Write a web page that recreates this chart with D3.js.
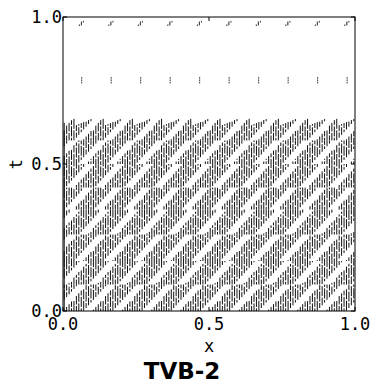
<!DOCTYPE html>
<html>
<head>
<meta charset="utf-8">
<script src="https://cdn.jsdelivr.net/npm/d3@7"></script>
<style>
  body { margin: 0; background: #fff; }
  text { font-family: "DejaVu Sans Mono", monospace; }
</style>
</head>
<body>
<div id="chart"></div>
<script>
// ticks
const xTicks = [0, 0.5, 1.0];
const tTicks = [0, 0.5, 1.0];
const tickLabels = ["0.0", "0.5", "1.0"];

// troubled cells: grid and flagged bands
const nCells = 120;
const period = 0.1;
const bandSpeed = 0.9;        // dx/dt of the slanted bands
const bandWidth = 0.07;       // flagged width of one band in x
// the pattern jumps between time tiers
const tierT = [0, 0.09, 0.17, 0.26, 0.345, 0.42, 0.50, 0.58, 0.70];
const tierShiftX = [0.0, 0.035, 0.015, 0.05, 0.025, 0.06, 0.03, 0.045];
const dashLen = 0.034;        // flagged runs in time are broken into dashes
const dashGap = 0.005;
const dashPhase = [0, 0.017, 0.008, 0.025];
const edgeCellT = [0, 0.64];  // the first cell is flagged all the way up
// top of the flagged region: saw tooth, drops at ridgeX
const ridgeX = [0.045, 0.145, 0.245, 0.345, 0.445, 0.545, 0.645, 0.745, 0.845, 0.945];
const ridgeLowT = 0.632;
const ridgeHighT = 0.673;
// isolated flags higher up
const midDotsX = [0.064, 0.165, 0.266, 0.367, 0.468, 0.569, 0.67, 0.771, 0.872, 0.973];
const midDotsT = [0.777, 0.785, 0.793];
const topDotsX = [0.056, 0.157, 0.258, 0.359, 0.46, 0.561, 0.662, 0.763, 0.864, 0.965];
const topDotsDx = [0, 0.007, 0.007, 0.007, 0.014];
const topDotsT = [0.972, 0.974, 0.978, 0.982, 0.984];

const W = 377, H = 384;
const margin = {top: 17, right: 22, bottom: 73, left: 63};
const width = W - margin.left - margin.right;
const height = H - margin.top - margin.bottom;

const svg = d3.select('#chart').append('svg')
  .attr('width', W)
  .attr('height', H);

const x = d3.scaleLinear().domain([0, 1]).range([0, width]);
const y = d3.scaleLinear().domain([0, 1]).range([height, 0]);

const main = svg.append('g')
  .attr('transform', `translate(${margin.left},${margin.top})`);

function topAt(xc) {
  // saw tooth between the ridge drops
  let prev = ridgeX[ridgeX.length - 1] - 1;
  for (const r of ridgeX) {
    if (xc < r) break;
    prev = r;
  }
  const s = (xc - prev) / period;
  return ridgeLowT + (ridgeHighT - ridgeLowT) * Math.min(s, 1);
}

// flagged runs per cell column and tier, cut into dashes
const segments = [];
for (let j = 0; j < nCells; j++) {
  const xc = (j + 0.5) / nCells;
  const tTop = topAt(xc);
  const ph = dashPhase[j % dashPhase.length];
  for (let m = 0; m < tierShiftX.length; m++) {
    const lo = tierT[m], hi = Math.min(tierT[m + 1], tTop);
    const xs = xc - tierShiftX[m];
    for (let k = -20; k < 20; k++) {
      const tk = k * period / bandSpeed;
      const a = Math.max(tk + (xs - bandWidth) / bandSpeed, lo);
      const b = Math.min(tk + xs / bandSpeed, hi);
      if (b <= a) continue;
      let s = a - ph;
      while (s < b) {
        const s0 = Math.max(s, a), s1 = Math.min(s + dashLen, b);
        if (s1 - s0 > 0.003) segments.push({x: xc, t0: s0, t1: s1});
        s += dashLen + dashGap;
      }
    }
  }
}
segments.push({x: 0.5 / nCells, t0: edgeCellT[0], t1: edgeCellT[1]});

main.append('g').attr('class', 'flags')
  .selectAll('line')
  .data(segments)
  .enter()
  .append('line')
  .attr('x1', d => x(d.x))
  .attr('x2', d => x(d.x))
  .attr('y1', d => y(d.t0))
  .attr('y2', d => y(d.t1))
  .style('stroke', '#111')
  .style('stroke-width', 1);

// isolated dots
const dots = [];
midDotsX.forEach(xd => midDotsT.forEach(td => dots.push({x: xd, t: td})));
topDotsX.forEach(xd => topDotsT.forEach((td, i) => dots.push({x: xd + topDotsDx[i], t: td})));

main.append('g').attr('class', 'dots')
  .selectAll('rect')
  .data(dots)
  .enter()
  .append('rect')
  .attr('x', d => x(d.x) - 0.5)
  .attr('y', d => y(d.t) - 0.8)
  .attr('width', 1)
  .attr('height', 1.6)
  .style('fill', '#333');

// frame
main.append('rect')
  .attr('x', 0).attr('y', 0)
  .attr('width', width).attr('height', height)
  .style('fill', 'none')
  .style('stroke', '#000')
  .style('stroke-width', 1);

// inward ticks on all sides
const tickLen = 4;
main.append('g').selectAll('line')
  .data(xTicks).enter().append('line')
  .attr('x1', d => x(d)).attr('x2', d => x(d))
  .attr('y1', height).attr('y2', height - tickLen)
  .style('stroke', '#000');
main.append('g').selectAll('line')
  .data(xTicks).enter().append('line')
  .attr('x1', d => x(d)).attr('x2', d => x(d))
  .attr('y1', 0).attr('y2', tickLen)
  .style('stroke', '#000');
main.append('g').selectAll('line')
  .data(tTicks).enter().append('line')
  .attr('x1', 0).attr('x2', tickLen)
  .attr('y1', d => y(d)).attr('y2', d => y(d))
  .style('stroke', '#000');
main.append('g').selectAll('line')
  .data(tTicks).enter().append('line')
  .attr('x1', width).attr('x2', width - tickLen)
  .attr('y1', d => y(d)).attr('y2', d => y(d))
  .style('stroke', '#000');

// tick labels
main.append('g').selectAll('text')
  .data(xTicks).enter().append('text')
  .attr('x', d => x(d))
  .attr('y', height + 19)
  .attr('text-anchor', 'middle')
  .style('font-size', '17px')
  .text((d, i) => tickLabels[i]);

main.append('g').selectAll('text')
  .data(tTicks).enter().append('text')
  .attr('x', -1)
  .attr('y', d => y(d))
  .attr('dy', '0.35em')
  .attr('text-anchor', 'end')
  .style('font-size', '17px')
  .text((d, i) => tickLabels[i]);

// axis labels and title
main.append('text')
  .attr('x', width / 2)
  .attr('y', height + 41)
  .attr('text-anchor', 'middle')
  .style('font-size', '17px')
  .text('x');

main.append('text')
  .attr('transform', `translate(${-47},${height / 2}) rotate(-90)`)
  .attr('text-anchor', 'middle')
  .attr('dy', '0.35em')
  .style('font-size', '17px')
  .text('t');

svg.append('text')
  .attr('x', 182)
  .attr('y', 379)
  .attr('text-anchor', 'middle')
  .style('font-family', '"DejaVu Sans", sans-serif')
  .style('font-weight', 'bold')
  .style('font-size', '23px')
  .text('TVB-2');
</script>
</body>
</html>
